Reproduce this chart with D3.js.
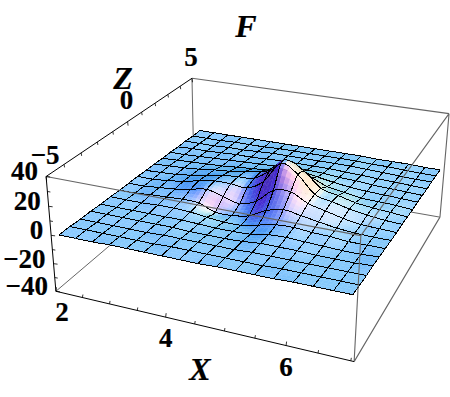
<!DOCTYPE html>
<html>
<head>
<meta charset="utf-8">
<script src="https://cdn.jsdelivr.net/npm/d3@7"></script>
<style>
  html, body { margin: 0; background: #fff; }
  svg { display: block; }
  text { font-family: "Liberation Serif", serif; font-weight: bold; fill: #000; stroke: #000; stroke-width: 0.2; }
</style>
</head>
<body>
<script>
// grid of the surface
const xNodes = [2.15, 2.453, 2.756, 3.059, 3.362, 3.665, 3.968, 4.271, 4.575, 4.878, 5.181, 5.484, 5.787, 6.09, 6.393, 6.696, 6.98];
const fNodes = [-5, -4.375, -3.75, -3.125, -2.5, -1.875, -1.25, -0.625, 0, 0.625, 1.25, 1.875, 2.5, 3.125, 3.75, 4.375, 5];
// z, one row per fNodes entry (front row first)
const zRows = [
  [1.5, 1.5, 1.5, 2, 2, 2, 2, 2, 2, 2.5, 2.5, 2.5, 2.5, 3, 3, 3, 3],
  [1.5, 1.5, 1.5, 1.5, 1.5, 1.5, 2, 2, 2, 2, 2, 2, 2.5, 2.5, 2.5, 2.5, 2.5],
  [1, 1, 1, 1, 1, 1.5, 1.5, 1.5, 1.5, 1.5, 2, 2, 2, 2, 2, 2, 2],
  [1, 1, 1, 1, 1, 1, 0.5, 0.5, 0.5, 1, 2, 2, 2, 1.5, 1.5, 1.5, 2],
  [0.5, 0.5, 0.5, 0.5, 0.5, 0.5, 0, -0.5, -0.5, 0, 2, 2.5, 2, 1.5, 1, 1, 1.5],
  [0.5, 0.5, 0.5, 1, 1, 0.5, -1, -2, -2, 0.5, 3, 3.5, 2.5, 2, 1, 1, 1],
  [0, 0, 1, 1.5, 2, 1.5, -3, -3, -1, 5, 8, 6, 4, 2, 1, 0.5, 0.5],
  [0, 0, 1, 2, 4, 6, 3, 0, 4, 14, 15, 9, 6, 3, 1, 0.5, 0],
  [0, 0, 1, 2.5, 5, 7, 7, 6, 13, 28, 22, 10, 7, 4, 2, 0.5, 0],
  [-0.5, 0, 0.5, 2, 4, 6, 7, 8, 16, 25, 19, 9, 6, 3, 1.5, 0.5, -0.5],
  [-0.5, 0, 0.5, 1.5, 3, 4, 6, 8, 11, 14, 10, 5, 3, 1, 0.5, 0, -1],
  [-1, -0.5, 0, 0.5, 1, 2, 3, 4, 6, 7, 5, 3, 1.5, 0.5, 0, -0.5, -1],
  [-1, -1, -0.5, 0, 0.5, 1, 1.5, 2, 3, 3, 2.5, 1.5, 1, 0, -0.5, -1, -1.5],
  [-1.5, -1, -1, -0.5, 0, 0, 0.5, 1, 1, 1, 1, 0.5, 0, -0.5, -1, -1.5, -2],
  [-1.5, -1.5, -1.5, -1, -1, -0.5, 0, 0, 0, 0, 0, 0, -0.5, -1, -1.5, -2, -2],
  [-2, -2, -2, -1.5, -1.5, -1.5, -1, -1, -1, -1, -1, -1, -1.5, -1.5, -2, -2.5, -2.5],
  [-2, -2, -2, -2, -2, -2, -2, -2, -2, -2, -2, -2, -2.5, -2.5, -2.5, -3, -3]
];
const xTicks = [2, 2.5, 3, 3.5, 4, 4.5, 5, 5.5, 6, 6.5, 7];
const xLabels = [2, 4, 6];
const fTicks = [-5, -4, -3, -2, -1, 0, 1, 2, 3, 4, 5];
const fLabels = [-5, 0, 5];
const zTicks = [-40, -30, -20, -10, 0, 10, 20, 30, 40];
const zLabels = [-40, -20, 0, 20, 40];

const width = 450, height = 397;
const svg = d3.select('body').append('svg').attr('width', width).attr('height', height);

const xScale = d3.scaleLinear().domain([2, 7.05]).range([0, 1]);
const fScale = d3.scaleLinear().domain([-5, 5]).range([0, 1]);
const zScale = d3.scaleLinear().domain([-40, 40]).range([0, 1]);

// camera: solve a 3x4 projection from where the box corners sit on screen
const corners = [
  [0, 0, 0, 56, 291], [1, 0, 0, 354, 362], [1, 1, 0, 440, 217], [0, 1, 0, 194, 174],
  [0, 0, 1, 46, 177], [1, 0, 1, 361, 235], [1, 1, 1, 449, 114], [0, 1, 1, 192, 78]
];
function solveCamera(pts) {
  const rows = [], rhs = [];
  pts.forEach(([a, b, c, u, v]) => {
    rows.push([a, b, c, 1, 0, 0, 0, 0, -u * a, -u * b, -u * c]); rhs.push(u);
    rows.push([0, 0, 0, 0, a, b, c, 1, -v * a, -v * b, -v * c]); rhs.push(v);
  });
  const n = 11;
  const m = d3.range(n).map(r => d3.range(n + 1).map(c =>
    d3.sum(rows, (row, k) => row[r] * (c < n ? row[c] : rhs[k]))));
  for (let c = 0; c < n; c++) {
    let piv = c;
    for (let r = c + 1; r < n; r++) if (Math.abs(m[r][c]) > Math.abs(m[piv][c])) piv = r;
    [m[c], m[piv]] = [m[piv], m[c]];
    for (let r = 0; r < n; r++) {
      if (r === c) continue;
      const f = m[r][c] / m[c][c];
      for (let k = c; k <= n; k++) m[r][k] -= f * m[c][k];
    }
  }
  return m.map((row, i) => row[n] / row[i]);
}
const cam = solveCamera(corners);
function project(a, b, c) {
  const w = cam[8] * a + cam[9] * b + cam[10] * c + 1;
  return [(cam[0] * a + cam[1] * b + cam[2] * c + cam[3]) / w, (cam[4] * a + cam[5] * b + cam[6] * c + cam[7]) / w];
}
const edge = (p, q) => {
  const a = project(...p), b = project(...q);
  return `M${a[0]},${a[1]}L${b[0]},${b[1]}`;
};

const grey = '#666', axisColor = '#000';
function drawEdges(list, color, w) {
  svg.append('path').attr('d', list.map(e => edge(e[0], e[1])).join(''))
    .attr('fill', 'none').attr('stroke', color).attr('stroke-width', w);
}

// back of the box, behind the surface
drawEdges([[[0, 0, 0], [0, 1, 0]], [[0, 1, 0], [1, 1, 0]], [[0, 1, 0], [0, 1, 1]]], grey, 1);

// smooth fill inside a mesh cell
const nI = xNodes.length, nJ = fNodes.length;
const zAt = (i, j) => zRows[Math.max(0, Math.min(nJ - 1, j))][Math.max(0, Math.min(nI - 1, i))];
const cr = (a, b, c, d, t) => 0.5 * (2 * b + (c - a) * t + (2 * a - 5 * b + 4 * c - d) * t * t + (3 * b - a - 3 * c + d) * t * t * t);
function zSmooth(s, t) {
  const i = Math.min(nI - 2, Math.floor(s)), j = Math.min(nJ - 2, Math.floor(t));
  const ds = s - i, dt = t - j;
  const col = d3.range(-1, 3).map(k => cr(zAt(i - 1, j + k), zAt(i, j + k), zAt(i + 1, j + k), zAt(i + 2, j + k), ds));
  return cr(col[0], col[1], col[2], col[3], dt);
}
const xAt = s => { const i = Math.min(nI - 2, Math.floor(s)); return xNodes[i] + (xNodes[i + 1] - xNodes[i]) * (s - i); };
const fAt = t => { const j = Math.min(nJ - 2, Math.floor(t)); return fNodes[j] + (fNodes[j + 1] - fNodes[j]) * (t - j); };
const surfPoint = (s, t) => project(xScale(xAt(s)), fScale(fAt(t)), zScale(zSmooth(s, t)));

// lights as in the original renderer: red, green, blue lamps
const theta = 25 * Math.PI / 180, phi = 26 * Math.PI / 180;
const ex = [Math.cos(theta), -Math.sin(theta) * Math.sin(phi), Math.sin(theta) * Math.cos(phi)];
const eF = [Math.sin(theta), Math.cos(theta) * Math.sin(phi), -Math.cos(theta) * Math.cos(phi)];
const eZ = [0, Math.cos(phi), Math.sin(phi)];
function shade(s, t) {
  const h = 0.1;
  const p = (a, b) => [xScale(xAt(a)), fScale(fAt(b)), 0.6 * zScale(zSmooth(a, b))];
  const s0 = Math.max(0, s - h), s1 = Math.min(nI - 1, s + h), t0 = Math.max(0, t - h), t1 = Math.min(nJ - 1, t + h);
  const a0 = p(s0, t), a1 = p(s1, t), b0 = p(s, t0), b1 = p(s, t1);
  const u = [a1[0] - a0[0], a1[1] - a0[1], a1[2] - a0[2]], v = [b1[0] - b0[0], b1[1] - b0[1], b1[2] - b0[2]];
  const nb = [u[1] * v[2] - u[2] * v[1], u[2] * v[0] - u[0] * v[2], u[0] * v[1] - u[1] * v[0]];
  const len = Math.hypot(...nb);
  const nv = [0, 1, 2].map(k => (nb[0] * ex[k] + nb[1] * eF[k] + nb[2] * eZ[k]) / len);
  const r = 0.27 + 0.87 * Math.max(0, (nv[0] + nv[2]) / Math.SQRT2);
  const g = 0.17 + 0.8 * Math.max(0, (nv[0] + nv[1] + nv[2]) / Math.sqrt(3));
  const b = 0.55 + 0.47 * Math.max(0, (nv[1] + nv[2]) / Math.SQRT2);
  return d3.rgb(Math.min(255, r * 255), Math.min(255, g * 255), Math.min(255, b * 255)).formatHex();
}

const sub = 4;
const surface = svg.append('g');
const poly = d3.line();
const lineU = (i, t) => d3.range(0, sub + 1).map(k => surfPoint(i + k / sub, t));
const lineV = (s, j) => d3.range(0, sub + 1).map(k => surfPoint(s, j + k / sub));
// far corner first, so nearer cells paint over what they hide
for (let i = 0; i < nI - 1; i++) {
  for (let j = nJ - 2; j >= 0; j--) {
    const cell = surface.append('g');
    for (let a = 0; a < sub; a++) {
      for (let b = sub - 1; b >= 0; b--) {
        const s0 = i + a / sub, s1 = i + (a + 1) / sub, t0 = j + b / sub, t1 = j + (b + 1) / sub;
        const c = shade((s0 + s1) / 2, (t0 + t1) / 2);
        cell.append('path')
          .attr('d', poly([surfPoint(s0, t0), surfPoint(s1, t0), surfPoint(s1, t1), surfPoint(s0, t1)]) + 'Z')
          .attr('fill', c).attr('stroke', c).attr('stroke-width', 0.4);
      }
    }
    // each mesh edge drawn once, by the later of its two cells
    const runs = [lineU(i, j + 1), lineV(i, j)];
    if (j === 0) runs.push(lineU(i, 0));
    if (i === nI - 2) runs.push(lineV(i + 1, j));
    cell.append('path').attr('d', runs.map(r => poly(r)).join(''))
      .attr('fill', 'none').attr('stroke', '#000').attr('stroke-width', 1)
      .attr('shape-rendering', 'crispEdges');
  }
}

// front of the box, over the surface
drawEdges([
  [[0, 0, 1], [1, 0, 1]], [[1, 0, 1], [1, 1, 1]], [[0, 1, 1], [1, 1, 1]],
  [[1, 0, 0], [1, 0, 1]], [[1, 0, 0], [1, 1, 0]], [[1, 1, 0], [1, 1, 1]]
], grey, 1.1);
drawEdges([[[0, 0, 0], [1, 0, 0]], [[0, 0, 0], [0, 0, 1]], [[0, 0, 1], [0, 1, 1]]], axisColor, 1);

// ticks
const tickPath = svg.append('path').attr('fill', 'none').attr('stroke', '#000').attr('stroke-width', 0.8);
let ticks = '';
const stub = (a, dx, dy) => `M${a[0]},${a[1]}l${dx},${dy}`;
xTicks.forEach(v => { ticks += stub(project(xScale(v), 0, 0), 0.5, xLabels.includes(v) ? -4 : -3); });
fTicks.forEach(v => { ticks += stub(project(0, fScale(v), 1), 0.5, fLabels.includes(v) ? 4 : 3); });
zTicks.forEach(v => { ticks += stub(project(0, 0, zScale(v)), zLabels.includes(v) ? 4 : 3, 0.5); });
tickPath.attr('d', ticks);

// tick labels
const num = v => String(v).replace('-', '\u2212');
const tickFont = 27;
function label(x, y, txt, size, anchor, italic) {
  svg.append('text').attr('x', x).attr('y', y).attr('text-anchor', anchor)
    .attr('font-size', size).attr('font-style', italic ? 'italic' : 'normal').text(txt);
}
xLabels.forEach(v => { const a = project(xScale(v), 0, 0); label(a[0] + (v === 2 ? 6 : 0), a[1] + 30, num(v), tickFont, 'middle'); });
fLabels.forEach(v => { const a = project(0, fScale(v), 1); label(a[0] - 1, a[1] - 12.5, num(v), tickFont, 'middle'); });
zLabels.forEach(v => { const a = project(0, 0, zScale(v)); label(a[0] - 8, a[1] + 4, num(v), tickFont, 'end'); });

label(246, 37, 'F', 32, 'middle', true);
label(123, 89, 'Z', 32, 'middle', true);
label(200, 380, 'X', 32, 'middle', true);
</script>
</body>
</html>
